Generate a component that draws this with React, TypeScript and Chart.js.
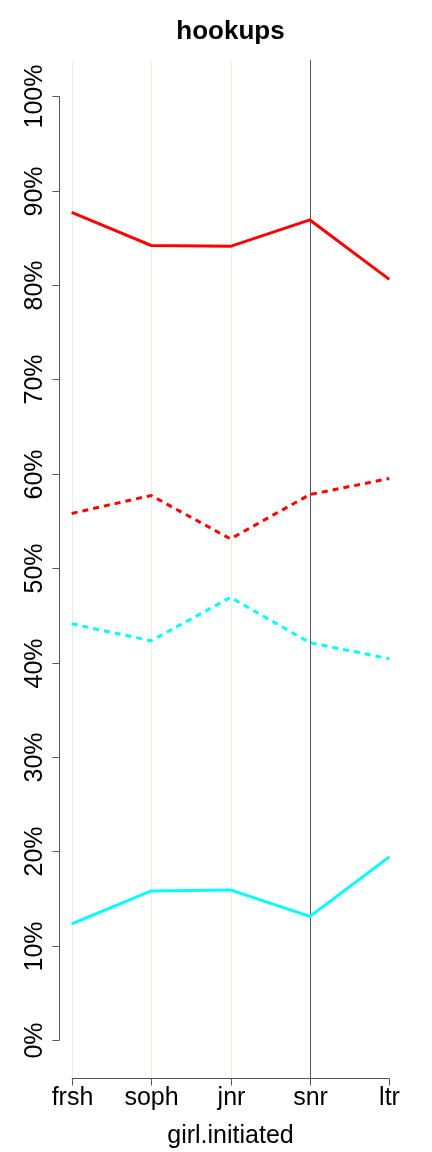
import React, { useEffect, useRef } from "react";
import { Chart, registerables } from "chart.js";

Chart.register(...registerables);

const categories = ["frsh", "soph", "jnr", "snr", "ltr"];
const redSolid = [87.7, 84.2, 84.1, 86.9, 80.6];
const redDashed = [55.8, 57.7, 53.1, 57.8, 59.5];
const cyanDashed = [44.1, 42.3, 46.9, 42.1, 40.4];
const cyanSolid = [12.3, 15.8, 15.9, 13.1, 19.4];
const yTicks = [0, 10, 20, 30, 40, 50, 60, 70, 80, 90, 100];
const lightLines = [1, 2, 3];
const darkLines = [4];
const title = "hookups";
const xTitle = "girl.initiated";

const FONT = "'Liberation Sans', Arial, Helvetica, sans-serif";

const toPoints = (arr: number[]) => arr.map((v, i) => ({ x: i + 1, y: v }));

const rAxesPlugin = {
  id: "rAxes",
  beforeDatasetsDraw(chart: any) {
    const { ctx, chartArea } = chart;
    const xs = chart.scales.x;
    ctx.save();
    ctx.lineWidth = 1;
    ctx.strokeStyle = "#F0EEE0";
    lightLines.forEach((v) => {
      const px = Math.round(xs.getPixelForValue(v)) + 0.5;
      ctx.beginPath();
      ctx.moveTo(px, chartArea.top);
      ctx.lineTo(px, chartArea.bottom);
      ctx.stroke();
    });
    ctx.strokeStyle = "#555555";
    darkLines.forEach((v) => {
      const px = Math.round(xs.getPixelForValue(v)) + 0.5;
      ctx.beginPath();
      ctx.moveTo(px, chartArea.top);
      ctx.lineTo(px, chartArea.bottom);
      ctx.stroke();
    });
    ctx.restore();
  },
  afterDraw(chart: any) {
    const { ctx, chartArea } = chart;
    const xs = chart.scales.x;
    const ys = chart.scales.y;
    ctx.save();
    ctx.strokeStyle = "#555555";
    ctx.lineWidth = 1;
    // y axis
    const ax = Math.round(chartArea.left) + 0.5;
    const y0 = ys.getPixelForValue(yTicks[0]);
    const y1 = ys.getPixelForValue(yTicks[yTicks.length - 1]);
    ctx.beginPath();
    ctx.moveTo(ax, y0);
    ctx.lineTo(ax, y1);
    ctx.stroke();
    ctx.fillStyle = "#000";
    ctx.font = `25px ${FONT}`;
    yTicks.forEach((t) => {
      const py = Math.round(ys.getPixelForValue(t)) + 0.5;
      ctx.beginPath();
      ctx.moveTo(ax, py);
      ctx.lineTo(ax - 7, py);
      ctx.stroke();
      ctx.save();
      ctx.translate(42, py);
      ctx.rotate(-Math.PI / 2);
      ctx.textAlign = "center";
      ctx.textBaseline = "alphabetic";
      ctx.fillText(`${t}%`, 0, 0);
      ctx.restore();
    });
    // x axis
    const ay = Math.round(chartArea.bottom) + 0.5;
    const x0 = xs.getPixelForValue(1);
    const x1 = xs.getPixelForValue(categories.length);
    ctx.beginPath();
    ctx.moveTo(x0, ay);
    ctx.lineTo(x1, ay);
    ctx.stroke();
    ctx.textAlign = "center";
    ctx.textBaseline = "alphabetic";
    categories.forEach((c, i) => {
      const px = Math.round(xs.getPixelForValue(i + 1)) + 0.5;
      ctx.beginPath();
      ctx.moveTo(px, ay);
      ctx.lineTo(px, ay + 7);
      ctx.stroke();
      ctx.fillText(c, px, 1105);
    });
    const cx = (chartArea.left + chartArea.right) / 2;
    ctx.fillText(xTitle, cx, 1143);
    ctx.font = `bold 26px ${FONT}`;
    ctx.fillText(title, cx, 39);
    ctx.restore();
  },
};

export default function App() {
  const ref = useRef<HTMLCanvasElement | null>(null);
  useEffect(() => {
    document.body.style.margin = "0";
    if (!ref.current) return;
    const mk = (data: number[], color: string, dashed: boolean) => ({
      data: toPoints(data),
      borderColor: color,
      backgroundColor: color,
      borderWidth: 3,
      borderDash: dashed ? [6, 5] : [],
      pointRadius: 0,
      tension: 0,
      fill: false,
    });
    const chart = new Chart(ref.current, {
      type: "line",
      data: {
        datasets: [
          mk(redSolid, "#FF0000", false),
          mk(redDashed, "#FF0000", true),
          mk(cyanDashed, "#00FFFF", true),
          mk(cyanSolid, "#00FFFF", false),
        ],
      },
      options: {
        responsive: false,
        animation: false,
        devicePixelRatio: 1,
        layout: { padding: { left: 59, right: 30, top: 60, bottom: 74 } },
        plugins: { legend: { display: false }, tooltip: { enabled: false }, title: { display: false } },
        scales: {
          x: { type: "linear", display: false, min: 0.84, max: 5.16 },
          y: { type: "linear", display: false, min: -4.03, max: 103.85 },
        },
      },
      plugins: [rAxesPlugin],
    } as any);
    return () => chart.destroy();
  }, []);
  return <canvas ref={ref} width={432} height={1152} style={{ display: "block" }} />;
}
